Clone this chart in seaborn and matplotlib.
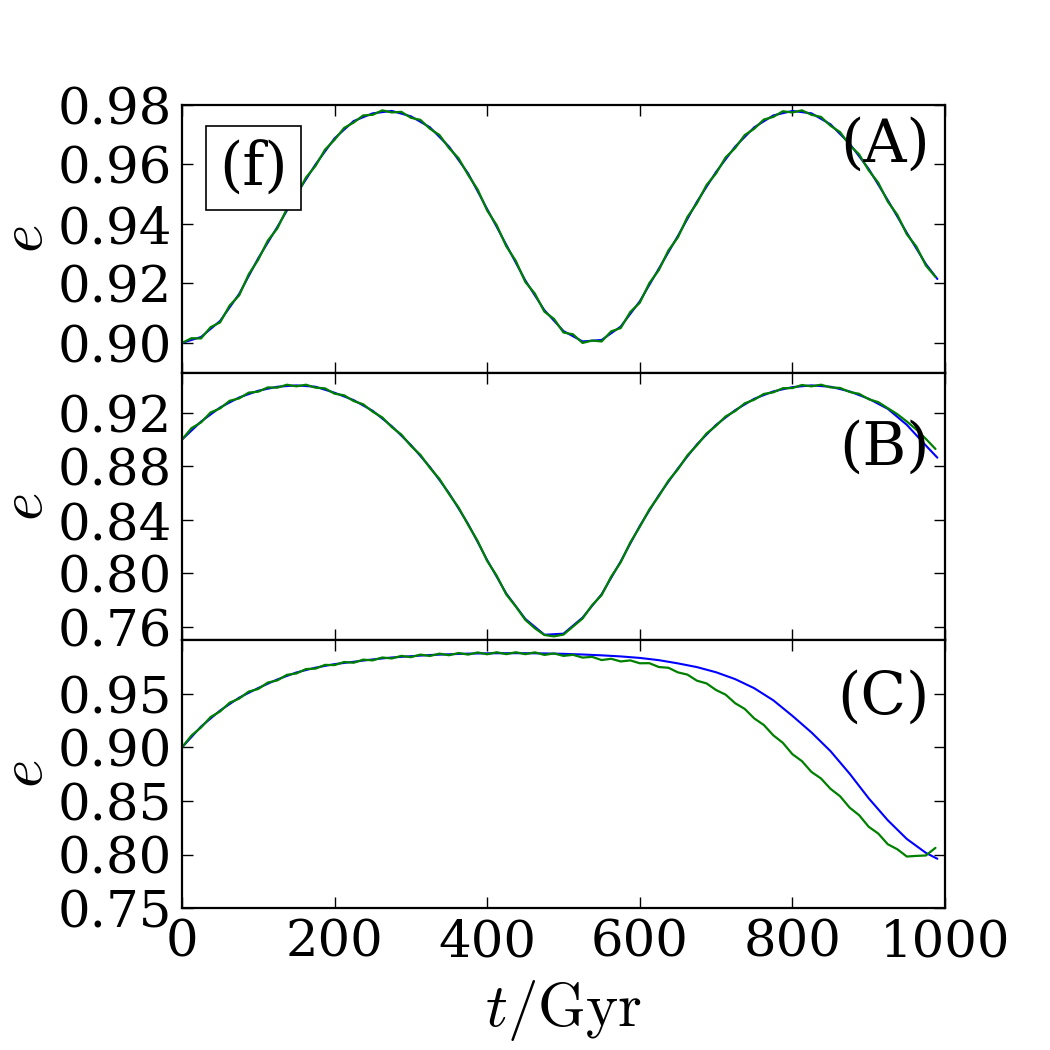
import matplotlib
matplotlib.use("Agg")
import matplotlib.pyplot as plt
import seaborn as sns
from matplotlib.ticker import FormatStrFormatter

# times (Gyr) for the smooth curves and for the wiggly N-body curves
t_smooth = list(range(0, 1000, 25)) + [990]

# panel A
eA_blue = [0.9000, 0.9020, 0.9074, 0.9165, 0.9285, 0.9390, 0.9500, 0.9600, 0.9688, 0.9746,
           0.9772, 0.9780, 0.9762, 0.9725, 0.9660, 0.9570, 0.9450, 0.9330, 0.9210, 0.9110,
           0.9040, 0.9005, 0.9010, 0.9055, 0.9140, 0.9250, 0.9360, 0.9475, 0.9575, 0.9660,
           0.9725, 0.9765, 0.9780, 0.9772, 0.9735, 0.9670, 0.9585, 0.9480, 0.9370, 0.9265,
           0.9215]
eA_green = [0.9000, 0.9016, 0.9015, 0.9053, 0.9069, 0.9126, 0.9160, 0.9231, 0.9280, 0.9344,
            0.9385, 0.9451, 0.9495, 0.9556, 0.9595, 0.9650, 0.9683, 0.9723, 0.9741, 0.9765,
            0.9767, 0.9782, 0.9775, 0.9777, 0.9757, 0.9750, 0.9720, 0.9699, 0.9655, 0.9621,
            0.9565, 0.9516, 0.9445, 0.9396, 0.9325, 0.9276, 0.9205, 0.9166, 0.9105, 0.9081,
            0.9035, 0.9029, 0.9000, 0.9008, 0.9005, 0.9039, 0.9050, 0.9104, 0.9135, 0.9201,
            0.9245, 0.9311, 0.9355, 0.9424, 0.9470, 0.9531, 0.9570, 0.9624, 0.9655, 0.9699,
            0.9720, 0.9751, 0.9760, 0.9779, 0.9775, 0.9782, 0.9767, 0.9760, 0.9730, 0.9709,
            0.9665, 0.9634, 0.9580, 0.9539, 0.9475, 0.9431, 0.9365, 0.9324, 0.9260, 0.9222]

# panel B
eB_blue = [0.9000, 0.9135, 0.9240, 0.9315, 0.9365, 0.9395, 0.9405, 0.9395, 0.9350, 0.9295,
           0.9215, 0.9100, 0.8960, 0.8795, 0.8600, 0.8370, 0.8100, 0.7850, 0.7660, 0.7542,
           0.7550, 0.7670, 0.7845, 0.8090, 0.8355, 0.8585, 0.8785, 0.8965, 0.9110, 0.9220,
           0.9305, 0.9360, 0.9392, 0.9405, 0.9395, 0.9360, 0.9305, 0.9230, 0.9110, 0.8955,
           0.8865]
eB_green = [0.9000, 0.9086, 0.9128, 0.9203, 0.9233, 0.9290, 0.9308, 0.9351, 0.9358, 0.9390,
            0.9388, 0.9410, 0.9398, 0.9410, 0.9388, 0.9383, 0.9343, 0.9331, 0.9288, 0.9264,
            0.9208, 0.9166, 0.9093, 0.9038, 0.8953, 0.8886, 0.8788, 0.8706, 0.8593, 0.8493,
            0.8363, 0.8243, 0.8093, 0.7983, 0.7843, 0.7753, 0.7653, 0.7590, 0.7540, 0.7530,
            0.7543, 0.7603, 0.7663, 0.7763, 0.7838, 0.7976, 0.8083, 0.8231, 0.8348, 0.8478,
            0.8578, 0.8693, 0.8778, 0.8883, 0.8958, 0.9046, 0.9103, 0.9173, 0.9213, 0.9271,
            0.9298, 0.9341, 0.9353, 0.9384, 0.9385, 0.9408, 0.9398, 0.9410, 0.9390, 0.9386,
            0.9356, 0.9342, 0.9302, 0.9280, 0.9235, 0.9190, 0.9135, 0.9075, 0.9005, 0.8930]

# panel C
eC_blue = [0.9000, 0.9195, 0.9345, 0.9465, 0.9555, 0.9635, 0.9700, 0.9745, 0.9778, 0.9800,
           0.9822, 0.9840, 0.9852, 0.9863, 0.9870, 0.9876, 0.9879, 0.9880, 0.9880, 0.9878,
           0.9874, 0.9868, 0.9860, 0.9850, 0.9836, 0.9815, 0.9785, 0.9750, 0.9702, 0.9638,
           0.9553, 0.9440, 0.9295, 0.9140, 0.8965, 0.8755, 0.8525, 0.8320, 0.8145, 0.8015,
           0.7960]
eC_green = [0.9000, 0.9112, 0.9186, 0.9284, 0.9336, 0.9418, 0.9456, 0.9522, 0.9546, 0.9606,
            0.9626, 0.9678, 0.9691, 0.9732, 0.9736, 0.9771, 0.9769, 0.9798, 0.9791, 0.9820,
            0.9813, 0.9840, 0.9831, 0.9855, 0.9843, 0.9867, 0.9854, 0.9876, 0.9861, 0.9882,
            0.9867, 0.9887, 0.9870, 0.9889, 0.9871, 0.9889, 0.9871, 0.9888, 0.9864, 0.9878,
            0.9855, 0.9865, 0.9839, 0.9846, 0.9816, 0.9828, 0.9803, 0.9813, 0.9786, 0.9787,
            0.9751, 0.9744, 0.9701, 0.9680, 0.9623, 0.9598, 0.9536, 0.9493, 0.9413, 0.9360,
            0.9271, 0.9210, 0.9113, 0.9043, 0.8937, 0.8872, 0.8771, 0.8710, 0.8613, 0.8544,
            0.8438, 0.8367, 0.8259, 0.8196, 0.8096, 0.8049, 0.7981, 0.7987, 0.7991, 0.8062]

t_nbody = [12.5 * i for i in range(len(eA_green))]

panels = [
    ("(A)", eA_blue, eA_green, (0.89, 0.98), [0.90, 0.92, 0.94, 0.96, 0.98], 0.85),
    ("(B)", eB_blue, eB_green, (0.75, 0.95), [0.76, 0.80, 0.84, 0.88, 0.92], 0.72),
    ("(C)", eC_blue, eC_green, (0.75, 1.00), [0.75, 0.80, 0.85, 0.90, 0.95], 0.785),
]

sns.set_style("ticks")
plt.rcParams["font.family"] = ["DejaVu Serif"]
plt.rcParams["mathtext.fontset"] = "cm"
plt.rcParams["xtick.direction"] = "in"
plt.rcParams["ytick.direction"] = "in"
plt.rcParams["xtick.top"] = True
plt.rcParams["ytick.right"] = True
plt.rcParams["axes.linewidth"] = 1.6
plt.rcParams["axes.edgecolor"] = "black"
plt.rcParams["text.color"] = "black"
plt.rcParams["axes.labelcolor"] = "black"
plt.rcParams["xtick.color"] = "black"
plt.rcParams["ytick.color"] = "black"

fig, axes = plt.subplots(3, 1, sharex=True, figsize=(10.5, 10.5), dpi=100)
fig.subplots_adjust(left=0.1733, right=0.9, top=0.9, bottom=0.1352, hspace=0)

for ax, (lab, eb, eg, ylim, yt, ylab) in zip(axes, panels):
    sns.lineplot(x=t_smooth, y=eb, ax=ax, color="b", linewidth=1.5)
    sns.lineplot(x=t_nbody, y=eg, ax=ax, color="g", linewidth=1.6)
    ax.set_xlim(0, 1000)
    ax.set_ylim(*ylim)
    ax.set_yticks(yt)
    ax.yaxis.set_major_formatter(FormatStrFormatter("%.2f"))
    ax.tick_params(labelsize=37, length=8, width=1, pad=7, colors="black")
    ax.set_ylabel("$e$", fontsize=44)
    ax.yaxis.set_label_coords(-0.166, 0.5)
    ax.text(0.98, ylab, lab, transform=ax.transAxes, fontsize=43,
            ha="right", va="center")

axes[0].text(0.094, 0.764, "(f)", transform=axes[0].transAxes, fontsize=43,
             ha="center", va="center",
             bbox=dict(boxstyle="square,pad=0.22", facecolor="white", edgecolor="black", linewidth=1.2))

axes[2].set_xticks([0, 200, 400, 600, 800, 1000])
axes[2].set_xlabel("$t/\\mathrm{Gyr}$", fontsize=44, labelpad=8)

fig.savefig("out.png", dpi=100)
